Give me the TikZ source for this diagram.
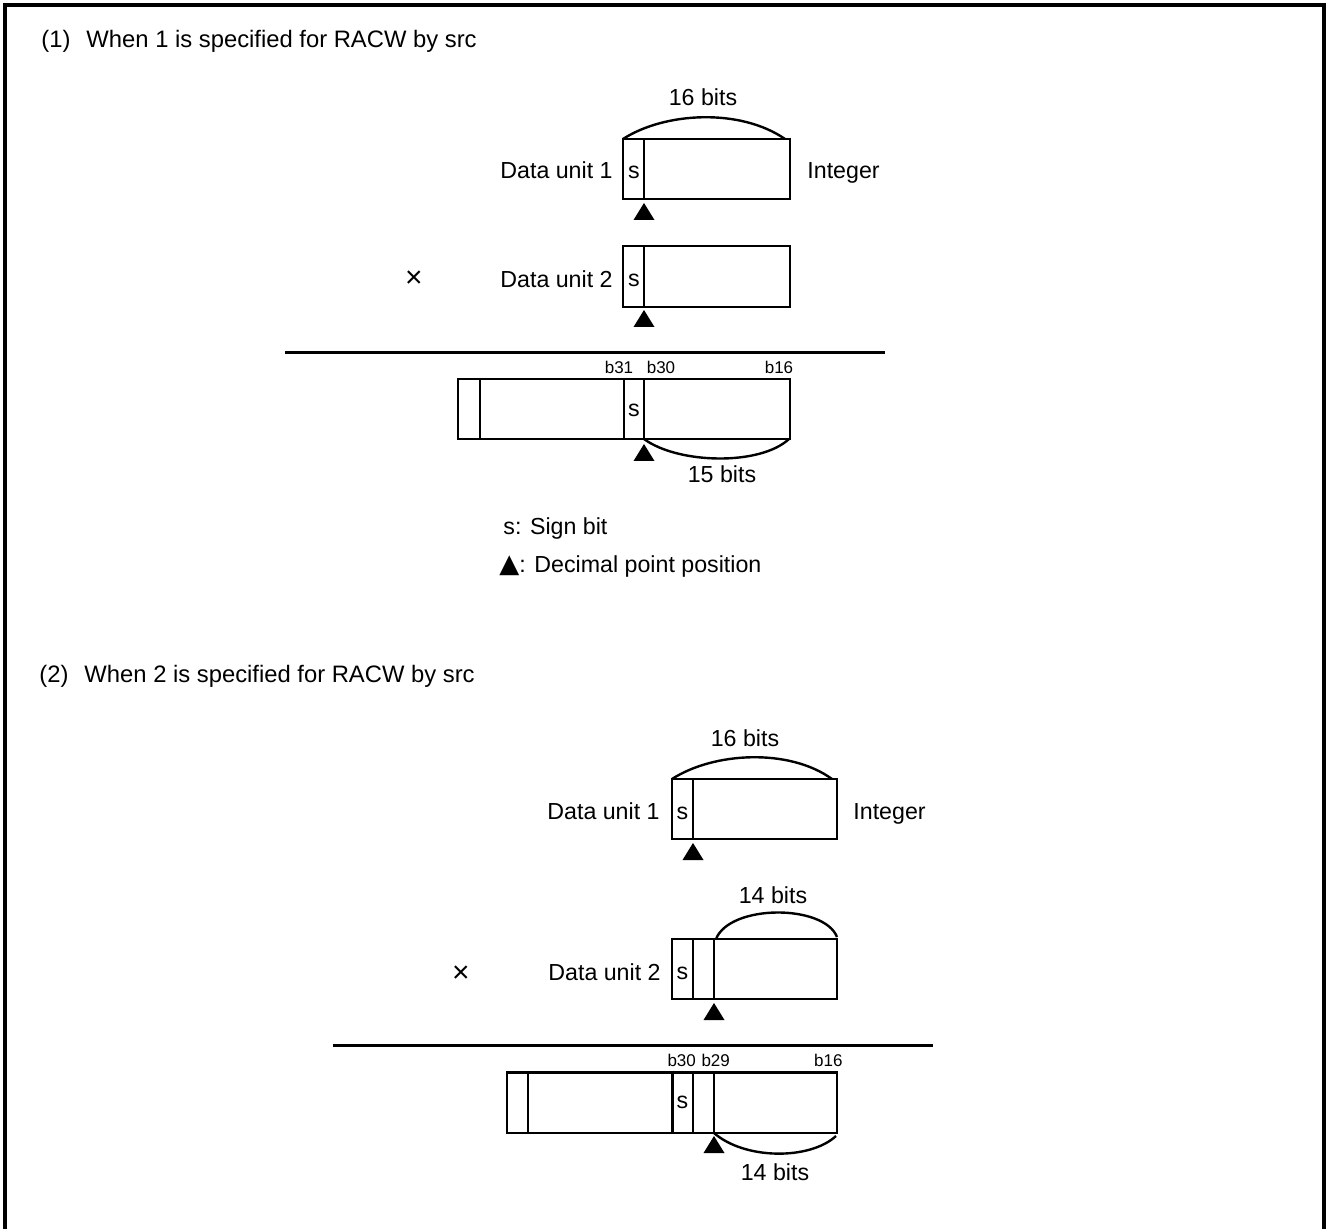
\documentclass[tikz,border=0pt]{standalone}
\usepackage{fontspec}
\setmainfont{Liberation Sans}
\newfontfamily\dejavu{DejaVu Sans}
\begin{document}
\begin{tikzpicture}[x=0.5pt,y=-0.5pt,
  box/.style={line width=1.4pt},
  brace/.style={line width=1.2pt},
  rule/.style={line width=1.2pt},
  frame/.style={line width=1.6pt},
  lbl/.style={font=\fontsize{11.6}{13}\selectfont, inner sep=0pt},
  ttl/.style={font=\fontsize{11.9}{13}\selectfont, inner sep=0pt},
  bit/.style={font=\fontsize{8.5}{9}\selectfont, inner sep=0pt},
  mul/.style={font=\fontsize{15}{15}\selectfont, inner sep=0pt},
  dp/.pic={\fill (0,0) -- (-10.5,17) -- (10.5,17) -- cycle;}]
\useasboundingbox (0,0) rectangle (1327,1229);
% frame (open at the bottom)
\draw[frame] (5,1229) -- (5,5) -- (1324,5) -- (1324,1229);

% ---------------- Section 1 ----------------
\node[ttl, anchor=base west] (t1) at (41,48) {(1)\hspace{8pt}When 1 is specified for RACW by src};

% data unit 1
\draw[box] (623,139) rectangle (790,199);
\draw[box] (644,139) -- (644,199);
\coordinate (a1l) at (623,139);
\coordinate (a1r) at (785,139);
\draw[brace] (a1l) .. controls (665,112) and (740,108) .. (a1r);
\node[lbl, anchor=base] (b16a) at (703,106) {16 bits};
\node[lbl, anchor=base] (s1a) at (634,179) {s};
\node[lbl, anchor=base east] (du1a) at (613,179) {Data unit 1};
\node[lbl, anchor=base west] (inta) at (807,179) {Integer};
\pic at (644,203) {dp};

% data unit 2
\draw[box] (623,246) rectangle (790,307);
\draw[box] (644,246) -- (644,307);
\node[lbl, anchor=base] (s2a) at (634,287) {s};
\node[lbl, anchor=base east] (du2a) at (613,288) {Data unit 2};
\node[mul] (mula) at (414,279) {×};
\pic at (644,310) {dp};

% rule
\coordinate (r1l) at (285,352.5);
\coordinate (r1r) at (885,352.5);
\draw[rule] (r1l) -- (r1r);

% result
\draw[box] (458,379) rectangle (790,439);
\draw[box] (480,379) -- (480,439);
\draw[box] (624,379) -- (624,439);
\draw[box] (644,379) -- (644,439);
\node[bit, anchor=base] (b31a) at (619,374) {b31};
\node[bit, anchor=base] (b30a) at (661,374) {b30};
\node[bit, anchor=base] (b16r) at (779,374) {b16};
\node[lbl, anchor=base] (s3a) at (634,417) {s};
\pic at (644,444) {dp};
\coordinate (c1l) at (644,439);
\coordinate (c1r) at (789,439);
\draw[brace] (c1l) .. controls (678,464) and (760,466) .. (c1r);
\node[lbl, anchor=base] (b15) at (722,483) {15 bits};

% legend
\node[lbl, anchor=base west] (leg1) at (503,535) {s: Sign bit};
\node[lbl, anchor=base west] (leg2) at (499,573) {{\dejavu\fontsize{13}{13}\selectfont ▲}: Decimal point position};

% ---------------- Section 2 ----------------
\node[ttl, anchor=base west] (t2) at (39,682) {(2)\hspace{8pt}When 2 is specified for RACW by src};

% data unit 1
\draw[box] (672,779) rectangle (837,839);
\draw[box] (693,779) -- (693,839);
\coordinate (a2l) at (672,779);
\coordinate (a2r) at (832,779);
\draw[brace] (a2l) .. controls (714,752) and (789,748) .. (a2r);
\node[lbl, anchor=base] (b16b) at (745,746) {16 bits};
\node[lbl, anchor=base] (s1b) at (682.5,819) {s};
\node[lbl, anchor=base east] (du1b) at (660,819) {Data unit 1};
\node[lbl, anchor=base west] (intb) at (853,819) {Integer};
\pic at (693,843) {dp};

% data unit 2
\draw[box] (672,939) rectangle (837,999);
\draw[box] (693,939) -- (693,999);
\draw[box] (714,939) -- (714,999);
\coordinate (a3l) at (716,939);
\coordinate (a3r) at (837,937);
\draw[brace] (a3l) .. controls (730,904) and (824,904) .. (a3r);
\node[lbl, anchor=base] (b14a) at (773,903) {14 bits};
\node[lbl, anchor=base] (s2b) at (682.5,979) {s};
\node[lbl, anchor=base east] (du2b) at (661,980) {Data unit 2};
\node[mul] (mulb) at (461,974) {×};
\pic at (714,1003) {dp};

% rule
\coordinate (r2l) at (333,1045.5);
\coordinate (r2r) at (933,1045.5);
\draw[rule] (r2l) -- (r2r);

% result
\draw[box] (507,1072.5) rectangle (837,1133);
\draw[box] (528,1072.5) -- (528,1133);
\draw[box] (672.5,1072.5) -- (672.5,1133);
\draw[box] (693,1072.5) -- (693,1133);
\draw[box] (714,1072.5) -- (714,1133);
\node[bit, anchor=base] (b30b) at (681.7,1066.7) {b30};
\node[bit, anchor=base] (b29b) at (715.7,1066.7) {b29};
\node[bit, anchor=base] (b16c) at (828.3,1066.7) {b16};
\node[lbl, anchor=base] (s3b) at (682.5,1108) {s};
\pic at (714,1136) {dp};
\coordinate (c2l) at (714,1133);
\coordinate (c2r) at (836,1136);
\draw[brace] (c2l) .. controls (745,1160) and (810,1160) .. (c2r);
\node[lbl, anchor=base] (b14b) at (775,1180) {14 bits};
\end{tikzpicture}
\end{document}
